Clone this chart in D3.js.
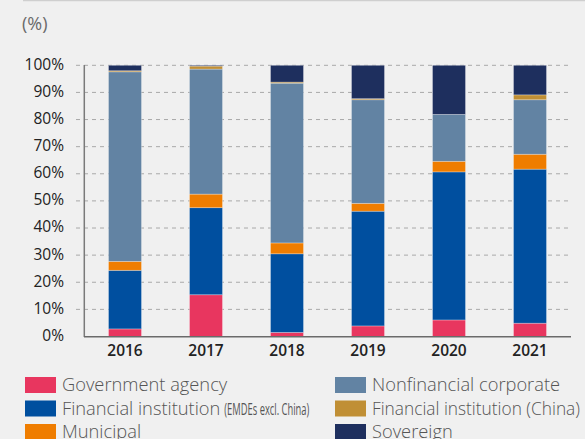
<!DOCTYPE html>
<html>
<head>
<meta charset="utf-8">
<script src="https://cdn.jsdelivr.net/npm/d3@7"></script>
<style>
  html, body { margin: 0; padding: 0; background: #f0f0f0; }
  svg { display: block; }
</style>
</head>
<body>
<svg id="chart" width="585" height="439"></svg>
<script>
const years = ["2016", "2017", "2018", "2019", "2020", "2021"];
const seriesNames = [
  "Government agency",
  "Financial institution (EMDEs excl. China)",
  "Municipal",
  "Nonfinancial corporate",
  "Financial institution (China)",
  "Sovereign"
];
const govAgency = [2.8, 15.4, 1.5, 3.9, 6.1, 4.9];
const finEmde = [21.6, 32.1, 29.0, 42.3, 54.6, 56.8];
const municipal = [3.3, 5.0, 4.0, 2.9, 3.9, 5.5];
const nonfinCorp = [69.9, 46.1, 58.9, 38.2, 17.3, 20.1];
const finChina = [0.4, 1.1, 0.4, 0.4, 0.0, 1.8];
const sovereign = [2.0, 0.3, 6.2, 12.3, 18.1, 10.9];
const yTicks = [0, 10, 20, 30, 40, 50, 60, 70, 80, 90, 100];

const colors = ["#e8365f", "#004f9f", "#ef7d00", "#6283a3", "#c08f35", "#1e2f5e"];
const keys = ["gov", "finE", "muni", "nonfin", "finC", "sov"];

const rows = years.map((y, i) => ({
  year: y,
  gov: govAgency[i],
  finE: finEmde[i],
  muni: municipal[i],
  nonfin: nonfinCorp[i],
  finC: finChina[i],
  sov: sovereign[i]
}));

const svg = d3.select("#chart");
const font = "'Open Sans', 'Noto Sans', sans-serif";

// top rule
svg.append("line")
  .attr("x1", 23).attr("x2", 585).attr("y1", 0.5).attr("y2", 0.5)
  .attr("stroke", "#cfcfcf").attr("stroke-width", 1.5);

svg.append("text")
  .attr("x", 22).attr("y", 30)
  .attr("font-family", font).attr("font-size", 18)
  .attr("fill", "#6a6a6a")
  .text("(%)");

const x = d3.scaleBand()
  .domain(years)
  .range([84.5, 570.5])
  .paddingInner(0.593)
  .paddingOuter(0.2965);

const y = d3.scaleLinear().domain([0, 100]).range([336.5, 65.3]);

// gridlines
svg.append("g")
  .selectAll("line")
  .data(yTicks.filter(d => d > 0))
  .join("line")
  .attr("x1", 76).attr("x2", 572)
  .attr("y1", d => y(d)).attr("y2", d => y(d))
  .attr("stroke", "#a9a9a9")
  .attr("stroke-width", 1)
  .attr("stroke-dasharray", "4,4");

// y tick labels
svg.append("g")
  .selectAll("text")
  .data(yTicks)
  .join("text")
  .attr("x", 64)
  .attr("y", d => y(d) - 1)
  .attr("dy", "0.35em")
  .attr("text-anchor", "end")
  .attr("font-family", font)
  .attr("font-size", 15.5)
  .attr("font-weight", 500)
  .attr("fill", "#222")
  .text(d => d + "%");

const stacked = d3.stack().keys(keys)(rows);

svg.append("g")
  .selectAll("g")
  .data(stacked)
  .join("g")
  .attr("fill", (d, i) => colors[i])
  .selectAll("rect")
  .data(d => d)
  .join("rect")
  .attr("x", d => x(d.data.year))
  .attr("width", x.bandwidth())
  .attr("y", d => y(d[1]))
  .attr("height", d => Math.max(0, y(d[0]) - y(d[1])))
  .attr("stroke", "rgba(255,255,255,0.35)")
  .attr("stroke-width", 0.8);

// axes lines
svg.append("line")
  .attr("x1", 84.3).attr("x2", 84.3).attr("y1", 65).attr("y2", 337)
  .attr("stroke", "#7a7a7a").attr("stroke-width", 1.5);
svg.append("line")
  .attr("x1", 84).attr("x2", 571).attr("y1", 336.8).attr("y2", 336.8)
  .attr("stroke", "#6a6a6a").attr("stroke-width", 1.5);

// x labels
svg.append("g")
  .selectAll("text")
  .data(years)
  .join("text")
  .attr("x", d => x(d) + x.bandwidth() / 2)
  .attr("y", 356)
  .attr("text-anchor", "middle")
  .attr("font-family", font)
  .attr("font-size", 15.5)
  .attr("font-weight", 600)
  .attr("fill", "#222")
  .text(d => d);

// legend
const legendPos = [
  [25, 377], [25, 400.5], [25, 424],
  [335, 377], [335, 400.5], [335, 424]
];
const lg = svg.append("g");
seriesNames.forEach((name, si) => {
  const [lx, ly] = legendPos[si];
  lg.append("rect")
    .attr("x", lx).attr("y", ly)
    .attr("width", 31).attr("height", 16)
    .attr("fill", colors[si]);
  const t = lg.append("text")
    .attr("x", lx + 37).attr("y", ly + 14)
    .attr("font-family", font)
    .attr("font-size", 18.3)
    .attr("font-weight", 300)
    .attr("fill", "#555");
  if (si === 1) {
    t.text("Financial institution");
    const end = lx + 37 + t.node().getComputedTextLength();
    lg.append("text")
      .attr("x", end + 4).attr("y", ly + 14)
      .attr("font-family", font)
      .attr("font-size", 17)
      .attr("fill", "#555")
      .attr("textLength", 85)
      .attr("lengthAdjust", "spacingAndGlyphs")
      .text("(EMDEs excl. China)");
  } else {
    t.text(name);
    if (si === 4) {
      t.attr("textLength", 208).attr("lengthAdjust", "spacingAndGlyphs");
    }
  }
});
</script>
</body>
</html>
